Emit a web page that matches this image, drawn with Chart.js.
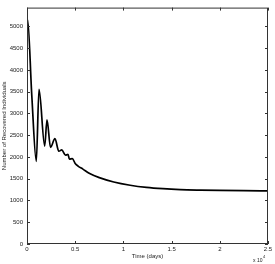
<!DOCTYPE html>
<html>
<head>
<meta charset="utf-8">
<script src="https://cdn.jsdelivr.net/npm/chart.js@4.4.0/dist/chart.umd.min.js"></script>
<style>
  html, body { margin: 0; padding: 0; background: #fff; }
  #wrap { width: 275px; height: 264px; }
</style>
</head>
<body>
<div id="wrap"><canvas id="grafica" width="275" height="264"></canvas></div>
<script>
// tiempo en dias y numero de individuos recuperados
var dias = [0, 60, 500, 965, 1245, 1835, 2074, 2440, 2900, 3300, 3600, 4000, 4250, 4400, 4700,
            5000, 5300, 5800, 6500, 7500, 9000, 10700, 12400, 14100, 15900, 18000, 20000, 22500, 25000];
var recuperados = [5000, 5160, 3400, 1900, 3550, 2250, 2850, 2220, 2420, 2130, 2160, 2040, 2060, 1950, 1960,
                   1850, 1790, 1720, 1620, 1525, 1425, 1350, 1300, 1270, 1250, 1238, 1230, 1224, 1220];
var ticksX = [0, 5000, 10000, 15000, 20000, 25000];
var ticksY = [0, 500, 1000, 1500, 2000, 2500, 3000, 3500, 4000, 4500, 5000];

var puntos = dias.map(function (d, i) { return { x: d, y: recuperados[i] }; });

// caja con marcas hacia adentro, estilo matlab
var caja = {
    id: 'caja',
    afterDraw: function (chart) {
        var c = chart.ctx, a = chart.chartArea;
        var sx = chart.scales.x, sy = chart.scales.y;
        c.save();
        c.strokeStyle = '#333';
        c.lineWidth = 1;
        c.strokeRect(a.left + 0.5, a.top + 0.5, a.right - a.left - 1, a.bottom - a.top - 1);
        c.beginPath();
        ticksX.forEach(function (v) {
            var px = Math.round(sx.getPixelForValue(v)) + 0.5;
            c.moveTo(px, a.bottom); c.lineTo(px, a.bottom - 3);
            c.moveTo(px, a.top); c.lineTo(px, a.top + 3);
        });
        ticksY.forEach(function (v) {
            var py = Math.round(sy.getPixelForValue(v)) + 0.5;
            c.moveTo(a.left, py); c.lineTo(a.left + 3, py);
            c.moveTo(a.right, py); c.lineTo(a.right - 3, py);
        });
        c.stroke();
        // x 10^4
        c.fillStyle = '#222';
        c.textBaseline = 'alphabetic';
        c.font = '5px "Liberation Sans", Arial, sans-serif';
        c.fillText('x 10', 253, 262);
        c.font = '4px "Liberation Sans", Arial, sans-serif';
        c.fillText('4', 263, 258);
        c.restore();
    }
};

var ctx = document.getElementById('grafica').getContext('2d');
var grafica = new Chart(ctx, {
    type: 'line',
    data: {
        datasets: [{
            data: puntos,
            borderColor: '#000',
            borderWidth: 1.7,
            pointRadius: 0,
            fill: false,
            cubicInterpolationMode: 'monotone'
        }]
    },
    options: {
        responsive: false,
        animation: false,
        layout: { padding: { top: 1, right: 7, left: 0, bottom: 0 } },
        plugins: { legend: { display: false }, tooltip: { enabled: false } },
        scales: {
            x: {
                type: 'linear',
                min: 0, max: 25000,
                afterBuildTicks: function (s) { s.ticks = ticksX.map(function (v) { return { value: v }; }); },
                afterFit: function (s) { s.height = 20; },
                grid: { display: false, drawTicks: false },
                border: { display: false },
                ticks: {
                    padding: 2,
                    maxRotation: 0,
                    color: '#222',
                    font: { family: 'Liberation Sans', size: 6 },
                    callback: function (v) { return String(v / 10000); }
                },
                title: {
                    display: true, text: 'Time (days)', color: '#222',
                    font: { family: 'Liberation Sans', size: 6 },
                    padding: { top: 0, bottom: 4 }
                }
            },
            y: {
                min: 0, max: 5430,
                afterBuildTicks: function (s) { s.ticks = ticksY.map(function (v) { return { value: v }; }); },
                afterFit: function (s) { s.width = 27; },
                grid: { display: false, drawTicks: false },
                border: { display: false },
                ticks: {
                    padding: 4,
                    color: '#222',
                    font: { family: 'Liberation Sans', size: 6 },
                    callback: function (v) { return String(v); }
                },
                title: {
                    display: true, text: 'Number of Recovered Individuals', color: '#222',
                    font: { family: 'Liberation Sans', size: 6 },
                    padding: { top: 1, bottom: 0 }
                }
            }
        }
    },
    plugins: [caja]
});
</script>
</body>
</html>
